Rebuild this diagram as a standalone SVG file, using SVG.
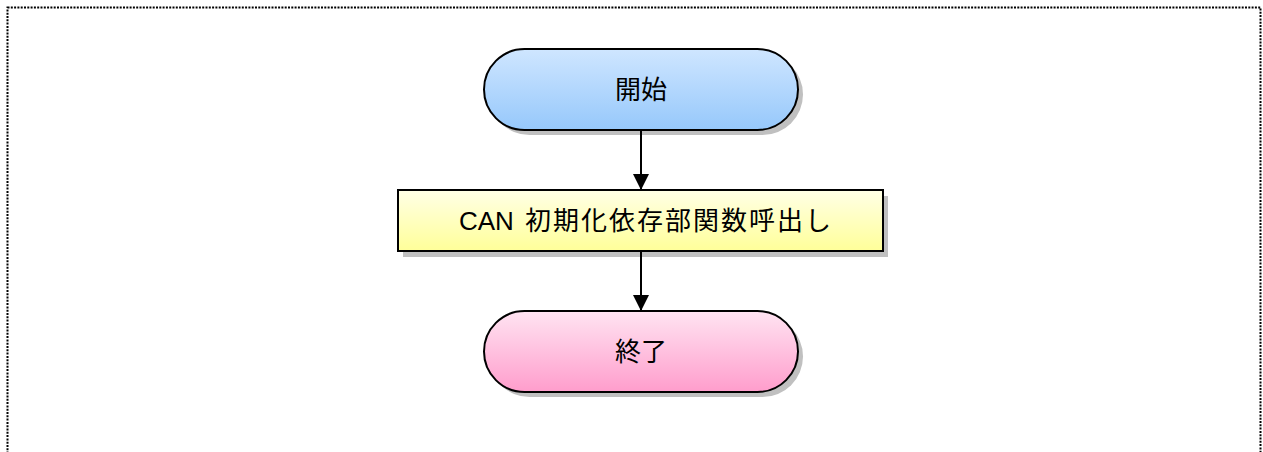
<svg xmlns="http://www.w3.org/2000/svg" width="1263" height="452" viewBox="0 0 1263 452">
<style>
.shape{stroke:#000;stroke-width:2}
.shadow{fill:#c0c0c0}
.lbl{font-family:"Liberation Sans","Noto Sans CJK JP",sans-serif;font-size:26px;fill:#000;text-anchor:middle;dominant-baseline:central}
.conn{stroke:#000;stroke-width:2;fill:none}
</style>
<defs>
<linearGradient id="gBlue" x1="0" y1="0" x2="0" y2="1"><stop offset="0" stop-color="#cfe6ff"/><stop offset="1" stop-color="#96c8fb"/></linearGradient>
<linearGradient id="gYel" x1="0" y1="0" x2="0" y2="1"><stop offset="0" stop-color="#ffffe6"/><stop offset="1" stop-color="#ffff99"/></linearGradient>
<linearGradient id="gPink" x1="0" y1="0" x2="0" y2="1"><stop offset="0" stop-color="#ffe4f2"/><stop offset="1" stop-color="#ff9dcc"/></linearGradient>
<marker id="arr" markerWidth="16" markerHeight="16" refX="16" refY="8" orient="auto" markerUnits="userSpaceOnUse"><path d="M0,0 L16,8 L0,16 Z" fill="#000"/></marker>
</defs>
<rect x="7.5" y="7.5" width="1253" height="460" fill="none" stroke="#000" stroke-width="2" stroke-dasharray="2,1.3"/>
<g id="start">
<rect class="shadow" x="489" y="54" width="314" height="81" rx="40.5"/>
<rect class="shape" x="484" y="49" width="314" height="81" rx="40.5" fill="url(#gBlue)"/>
<text class="lbl" x="641" y="90">開始</text>
</g>
<g id="process">
<rect class="shadow" x="403" y="196" width="485" height="61"/>
<rect class="shape" x="398" y="190" width="485" height="61" fill="url(#gYel)"/>
<text class="lbl" x="459" y="221" style="text-anchor:start">CAN<tspan x="525" style="letter-spacing:2px">初期化依存部関数呼出し</tspan></text>
</g>
<g id="end">
<rect class="shadow" x="489" y="316" width="314" height="81" rx="40.5"/>
<rect class="shape" x="484" y="311" width="314" height="81" rx="40.5" fill="url(#gPink)"/>
<text class="lbl" x="641" y="352">終了</text>
</g>
<g id="connectors">
<line class="conn" x1="641" y1="131" x2="641" y2="190" marker-end="url(#arr)"/>
<line class="conn" x1="641" y1="252" x2="641" y2="311" marker-end="url(#arr)"/>
</g>
</svg>
